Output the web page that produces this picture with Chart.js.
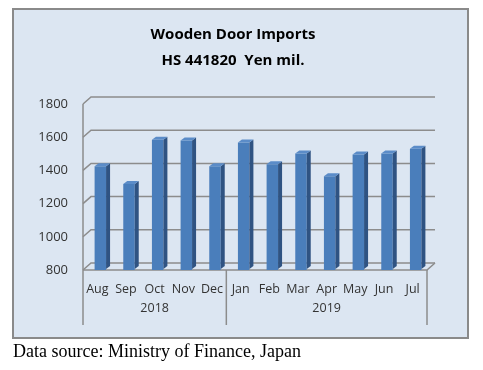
<!DOCTYPE html>
<html>
<head>
<meta charset="utf-8">
<script src="https://cdn.jsdelivr.net/npm/chart.js@4"></script>
<style>
  html, body { margin: 0; padding: 0; background: #fff; }
  #wrap { position: relative; width: 483px; height: 370px; }
  #src { position: absolute; left: 13px; top: 341px; font: 18px "Liberation Serif", "Times New Roman", serif; color: #000; white-space: nowrap; }
</style>
</head>
<body>
<div id="wrap">
  <canvas id="myChart" width="483" height="370"></canvas>
  <div id="src">Data source: Ministry of Finance, Japan</div>
</div>
<script>
const months = ['Aug', 'Sep', 'Oct', 'Nov', 'Dec', 'Jan', 'Feb', 'Mar', 'Apr', 'May', 'Jun', 'Jul'];
const imports = [1425, 1318, 1585, 1580, 1425, 1568, 1437, 1502, 1365, 1496, 1502, 1530];
const years = [
  { label: '2018', from: 0, to: 4 },
  { label: '2019', from: 5, to: 11 }
];
const yTicks = [800, 1000, 1200, 1400, 1600, 1800];

// depth of the fake 3d walls
const DX = 8, DY = -7, SHIFT = -3;
const lineCol = '#8c8c8c';

const frame = {
  id: 'frame',
  beforeDraw(chart) {
    const c = chart.ctx;
    c.save();
    c.fillStyle = '#dce6f2';
    c.fillRect(13, 9, 455, 329);
    c.strokeStyle = '#8a8a8a';
    c.lineWidth = 2;
    c.strokeRect(13, 9, 455, 329);
    c.restore();
  },
  beforeDatasetsDraw(chart) {
    const c = chart.ctx, a = chart.chartArea, y = chart.scales.y;
    const l = a.left + SHIFT, r = a.right + SHIFT;
    c.save();
    c.strokeStyle = lineCol;
    c.lineWidth = 1.5;
    yTicks.forEach(v => {
      const py = y.getPixelForValue(v);
      c.beginPath();
      c.moveTo(l, py);
      c.lineTo(l + DX, py + DY);
      c.lineTo(r + DX, py + DY);
      c.stroke();
    });
    // floor front edge
    const fb = y.getPixelForValue(800);
    c.beginPath();
    c.moveTo(l, fb);
    c.lineTo(r, fb);
    c.lineTo(r + DX, fb + DY);
    c.stroke();
    // left wall
    c.beginPath();
    c.moveTo(l, y.getPixelForValue(1800));
    c.lineTo(l, fb + 55);
    c.stroke();
    c.restore();
  },
  afterDatasetsDraw(chart) {
    const c = chart.ctx;
    const base = chart.scales.y.getPixelForValue(800) - 1;
    chart.getDatasetMeta(0).data.forEach(bar => {
      const p = bar.getProps(['x', 'y', 'width'], true);
      const x0 = p.x - p.width / 2, x1 = p.x + p.width / 2;
      const d = 4, h = -3;
      c.save();
      c.fillStyle = '#2f5382';
      c.beginPath();
      c.moveTo(x1, p.y);
      c.lineTo(x1 + d, p.y + h);
      c.lineTo(x1 + d, base + h);
      c.lineTo(x1, base);
      c.closePath();
      c.fill();
      c.fillStyle = '#5b8cc8';
      c.beginPath();
      c.moveTo(x0, p.y);
      c.lineTo(x0 + d, p.y + h);
      c.lineTo(x1 + d, p.y + h);
      c.lineTo(x1, p.y);
      c.closePath();
      c.fill();
      c.restore();
    });
  },
  afterDraw(chart) {
    const c = chart.ctx, a = chart.chartArea, x = chart.scales.x;
    const w = (a.right - a.left) / months.length;
    const top = a.bottom, bottom = a.bottom + 55;
    c.save();
    c.strokeStyle = lineCol;
    c.lineWidth = 1.5;
    c.fillStyle = '#333';
    c.font = '12.5px "Open Sans"';
    c.textAlign = 'center';
    c.textBaseline = 'middle';
    years.forEach((g, i) => {
      const left = x.getPixelForValue(g.from) - w / 2 + SHIFT;
      const right = x.getPixelForValue(g.to) + w / 2 + SHIFT;
      if (i > 0) {
        c.beginPath(); c.moveTo(left, top); c.lineTo(left, bottom); c.stroke();
      }
      if (i === years.length - 1) {
        c.beginPath(); c.moveTo(right, top); c.lineTo(right, bottom); c.stroke();
      }
      c.fillText(g.label, (left + right) / 2, a.bottom + 38);
    });
    c.restore();
  }
};

const ctx = document.getElementById('myChart');

const chart = new Chart(ctx, {
  type: 'bar',
  data: {
    labels: months,
    datasets: [{
      label: 'Imports',
      data: imports,
      backgroundColor: '#4a7ebb',
      borderWidth: 0,
      barPercentage: 0.4,
      categoryPercentage: 1
    }]
  },
  options: {
    responsive: false,
    animation: false,
    layout: { padding: { left: 36, right: 53, top: 0, bottom: 0 } },
    plugins: {
      legend: { display: false },
      tooltip: { enabled: false },
      title: {
        display: true,
        text: ['Wooden Door Imports', 'HS 441820  Yen mil.'],
        color: '#000',
        font: { family: 'Open Sans', size: 15, weight: 'bold', lineHeight: 1.7 },
        padding: { top: 22, bottom: 31 }
      }
    },
    scales: {
      y: {
        min: 800,
        max: 1800,
        afterFit: s => { s.width = 50; },
        afterBuildTicks: s => { s.ticks = yTicks.map(v => ({ value: v })); },
        grid: { display: false, drawTicks: false },
        border: { display: false },
        ticks: {
          padding: 18, color: '#333', font: { family: 'Open Sans', size: 13 },
          callback: v => String(v)
        }
      },
      x: {
        afterFit: s => { s.height = 100; },
        grid: { display: false, drawTicks: false },
        border: { display: false },
        ticks: { padding: 12, labelOffset: -3, maxRotation: 0, autoSkip: false, color: '#333', font: { family: 'Open Sans', size: 12.5 } }
      }
    }
  },
  plugins: [frame]
});
</script>
</body>
</html>
